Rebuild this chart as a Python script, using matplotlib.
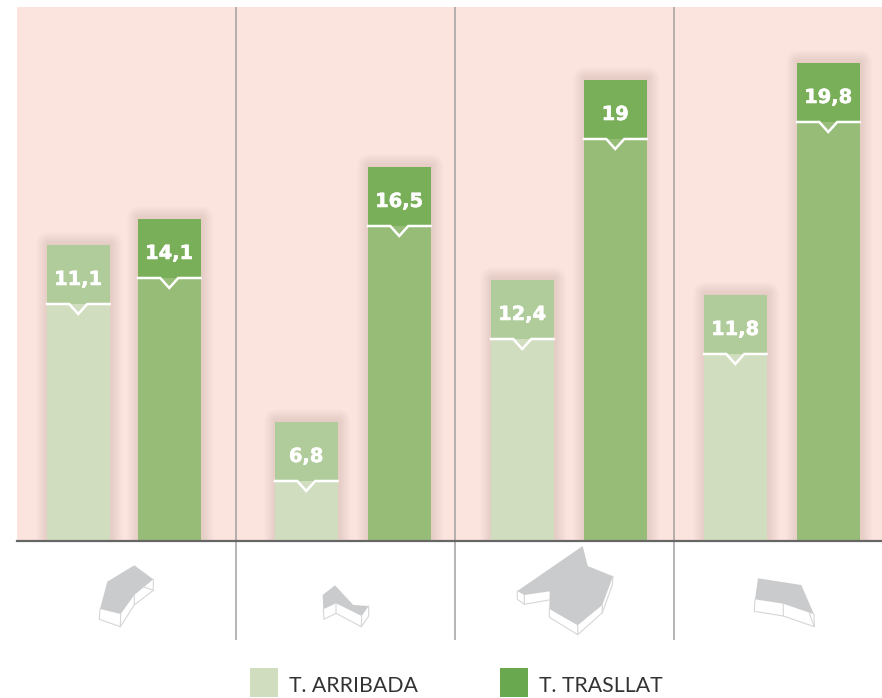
import matplotlib
matplotlib.use('Agg')
import matplotlib.pyplot as plt
import matplotlib.patheffects as pe
from matplotlib.patches import FancyBboxPatch, Patch, Polygon

# Values printed on the bars
labels_arribada = ['11,1', '6,8', '12,4', '11,8']
labels_trasllat = ['14,1', '16,5', '19', '19,8']

# Bar heights as drawn in the source chart (not proportional to the printed values)
heights_arribada = [296, 119, 261, 246]
heights_trasllat = [322, 374, 461, 478]

legend_names = ['T. ARRIBADA', 'T. TRASLLAT']

# Colours
BG = '#FBE4DD'
LIGHT = '#D1DDBF'
LIGHT_TOP = '#B1CC9B'
DARK = '#96BC78'
DARK_TOP = '#79AF59'
LEGEND_DARK = '#6AA84F'
ICON_FILL = '#CACBCD'
ICON_LINE = '#D6D6D6'

# Layout, in figure pixels
W, H = 882, 698
LEFT, TOP, BASE = 17, 7, 541
left_bars = [47, 275, 491, 704]
right_bars = [138, 368, 584, 797]
BAR_W = 62.5
BAND = 59
separators = [236, 455, 674]
SEP_END = 640

# Building footprints under each panel: roof outline, then wall lines
icons = [
    ([(107.3, 581.7), (134.3, 565.3), (153.3, 579.3), (134.3, 595), (120.7, 614), (100, 609)],
     [[(100, 609), (99.3, 619.3), (120.3, 626.7), (120.7, 614)],
      [(120.3, 626.7), (134.3, 605), (134.3, 595)],
      [(134.3, 605), (153.3, 590.3), (153.3, 579.3)],
      [(143.3, 586.7), (153.3, 590.3)]]),
    ([(322.7, 595), (335, 585.3), (353.3, 605), (368.7, 606), (361.7, 616), (336, 603.3), (323.3, 609.3)],
     [[(323.3, 609.3), (324, 619.3), (336, 613.3), (336, 603.3)],
      [(336, 613.3), (361.3, 626.7), (361.7, 616)],
      [(361.3, 626.7), (368.7, 616), (368.7, 606)]]),
    ([(582.7, 546), (587.7, 566), (613, 576.3), (602.3, 605), (577.7, 625.3), (549.3, 609),
      (549.7, 591.3), (524.3, 595), (517.3, 591)],
     [[(517.3, 591), (517.3, 599.3), (524.3, 604.3), (524.3, 595)],
      [(524.3, 604.3), (549, 600)],
      [(549.3, 609), (549.3, 617.3), (577.7, 634.7), (577.7, 625.3)],
      [(577.7, 634.7), (602.3, 612.7), (602.3, 605)],
      [(602.3, 612.7), (612.3, 585), (613, 576.3)]]),
    ([(758, 578.3), (801.3, 585), (814, 614.3), (783.3, 603.7), (755, 599.3)],
     [[(755, 599.3), (754.3, 611.3), (783.3, 616), (783.3, 603.7)],
      [(783.3, 616), (814.3, 626.7), (814, 614.3)],
      [(814.3, 626.7), (809.3, 613.3)]]),
]


# Soft shadow around a bar, stacked translucent boxes shifted a little to the right
def draw_shadow(ax, x, height):
    for pad in range(1, 14):
        box = FancyBboxPatch((x + 2, -20), BAR_W - 2, height + 20,
                             boxstyle=f'round,pad={pad},rounding_size={pad}',
                             facecolor='#6A5048', edgecolor='none', alpha=0.008, zorder=1)
        ax.add_patch(box)


# Bar with its darker top band, notched white line and value
def draw_bar(ax, x, height, label, body_color, top_color):
    ax.bar(x, height, width=BAR_W, align='edge', color=body_color, zorder=2)
    ax.bar(x, BAND, width=BAR_W, bottom=height - BAND, align='edge', color=top_color, zorder=2)

    line_y = height - BAND
    mid = x + BAR_W / 2
    ax.plot([x, mid - 9, mid, mid + 9, x + BAR_W],
            [line_y, line_y, line_y - 10, line_y, line_y],
            color='white', linewidth=1.8, solid_joinstyle='miter', zorder=3)
    ax.text(mid, height - 34.5, label, color='white', fontsize=14, fontweight='bold',
            family='DejaVu Sans', ha='center', va='center', zorder=4,
            path_effects=[pe.withStroke(linewidth=0.4, foreground='white')])


fig = plt.figure(figsize=(W / 100, H / 100), dpi=100)

# Main panel: one axis unit is one pixel
ax = fig.add_axes([LEFT / W, 1 - BASE / H, (W - LEFT) / W, (BASE - TOP) / H])
ax.set_xlim(LEFT, W)
ax.set_ylim(0, BASE - TOP)
ax.set_facecolor(BG)
ax.set_xticks([])
ax.set_yticks([])
for side in ['top', 'left', 'right']:
    ax.spines[side].set_visible(False)
ax.spines['bottom'].set_color('#666666')
ax.spines['bottom'].set_linewidth(1.6)
ax.spines['bottom'].set_zorder(5)

for i in range(4):
    draw_shadow(ax, left_bars[i], heights_arribada[i])
    draw_shadow(ax, right_bars[i], heights_trasllat[i])
for i in range(4):
    draw_bar(ax, left_bars[i], heights_arribada[i], labels_arribada[i], LIGHT, LIGHT_TOP)
    draw_bar(ax, right_bars[i], heights_trasllat[i], labels_trasllat[i], DARK, DARK_TOP)

ax.vlines(separators, BASE - SEP_END, BASE - TOP, color='#A0A0A0', linewidth=1.1,
          zorder=3, clip_on=False)

# Overlay in image coordinates for the footprints
ov = fig.add_axes([0, 0, 1, 1])
ov.set_xlim(0, W)
ov.set_ylim(H, 0)
ov.axis('off')
ov.patch.set_alpha(0)
for roof, walls in icons:
    ov.add_patch(Polygon(roof, closed=True, facecolor=ICON_FILL, edgecolor='none'))
    for wall in walls:
        xs = [p[0] for p in wall]
        ys = [p[1] for p in wall]
        ov.plot(xs, ys, color=ICON_LINE, linewidth=0.8)

# Legend
handles = [Patch(facecolor=LIGHT, edgecolor='none', label=legend_names[0]),
           Patch(facecolor=LEGEND_DARK, edgecolor='none', label=legend_names[1])]
leg = fig.legend(handles=handles, ncols=2, loc='lower left', bbox_to_anchor=(250 / W, 1 / H),
                 frameon=False, prop={'family': 'Lato', 'size': 15.3}, labelcolor='#333333',
                 handlelength=1.32, handleheight=1.71, handletextpad=0.52, columnspacing=3.86,
                 borderpad=0, borderaxespad=0)
for t in leg.get_texts():
    t.set_y(-3)

plt.savefig('out.png', dpi=100)
plt.close()
